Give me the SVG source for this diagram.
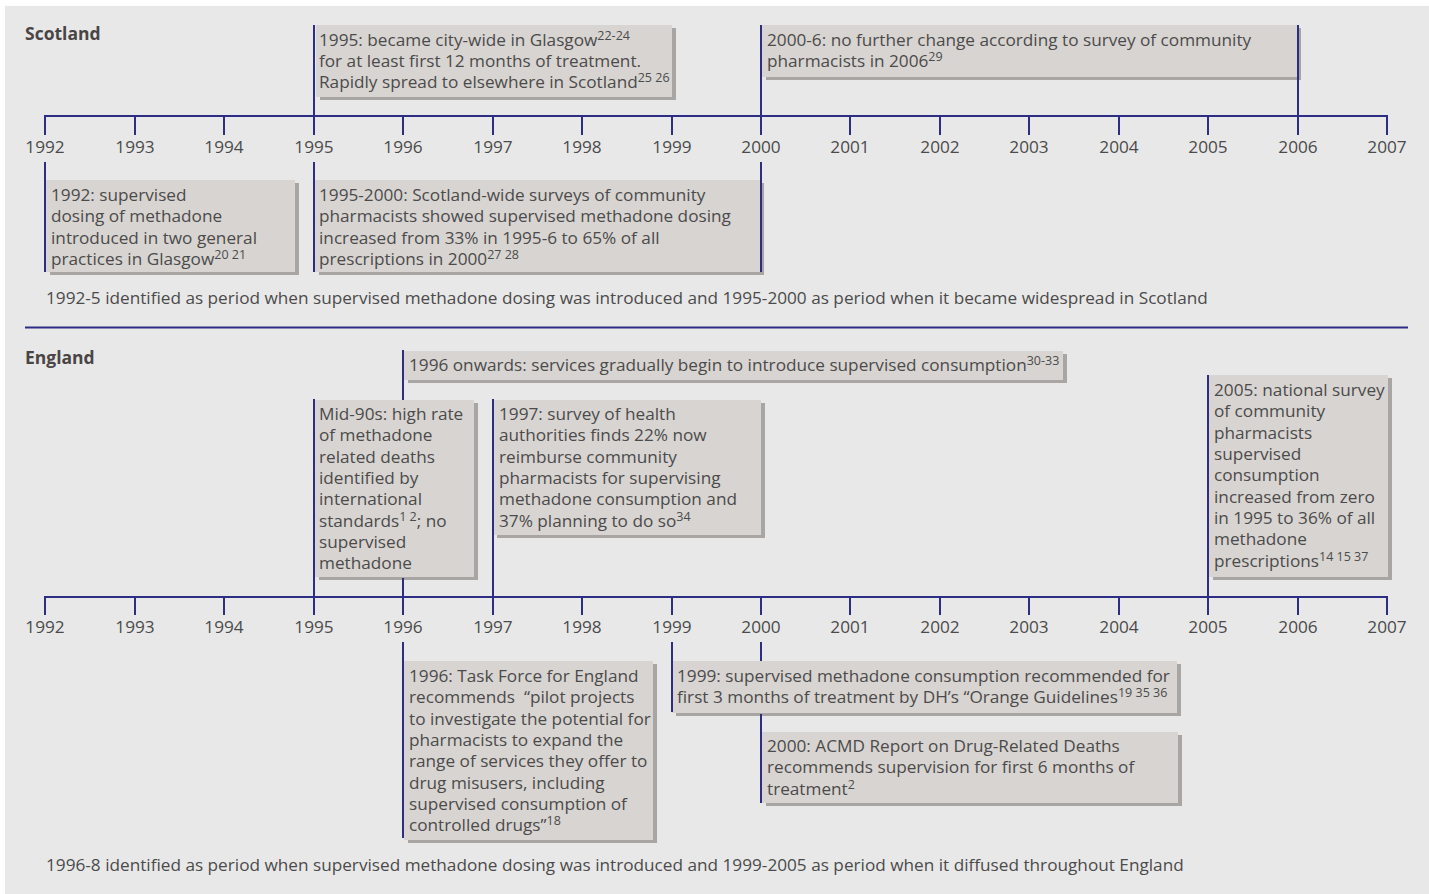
<svg xmlns="http://www.w3.org/2000/svg" width="1429" height="894" viewBox="0 0 1429 894">
<style>
text{font-family:"Open Sans","Noto Sans","Liberation Sans",sans-serif;font-size:17.2px;fill:#4b4b4b}
.h{font-weight:bold;font-size:17.5px;fill:#4a4545}
.yr{text-anchor:middle}
.sup{font-size:12.5px}
.box{fill:#d8d4d1}
.sh{fill:#a9a5a2}
.ln{stroke:#2e2d84;stroke-width:2;fill:none}
</style>
<rect x="0" y="0" width="1429" height="894" fill="#ffffff"/>
<rect x="5" y="6" width="1424" height="888" fill="#e8e8e8"/>

<text class="h" x="25" y="40">Scotland</text>
<text class="h" x="25" y="364">England</text>

<!-- Scotland nodes -->
<g id="s1995">
<rect class="sh" x="320" y="28" width="356" height="72"/>
<rect class="box" x="316" y="25" width="356" height="72"/>
<text><tspan x="319" y="46">1995: became city-wide in Glasgow<tspan class="sup" dy="-6">22-24</tspan></tspan><tspan x="319" y="67">for at least first 12 months of treatment.</tspan><tspan x="319" y="88">Rapidly spread to elsewhere in Scotland<tspan class="sup" dy="-6">25 26</tspan></tspan></text>
</g>
<g id="s2000-6">
<rect class="sh" x="766" y="28" width="535" height="52"/>
<rect class="box" x="762" y="25" width="535" height="52"/>
<text><tspan x="767" y="46">2000-6: no further change according to survey of community</tspan><tspan x="767" y="67">pharmacists in 2006<tspan class="sup" dy="-6">29</tspan></tspan></text>
</g>
<g id="s1992">
<rect class="sh" x="50" y="183" width="249" height="92"/>
<rect class="box" x="46" y="180" width="249" height="92"/>
<text><tspan x="51" y="201">1992: supervised</tspan><tspan x="51" y="222.3">dosing of methadone</tspan><tspan x="51" y="243.6">introduced in two general</tspan><tspan x="51" y="265">practices in Glasgow<tspan class="sup" dy="-6">20 21</tspan></tspan></text>
</g>
<g id="s1995-2000">
<rect class="sh" x="319" y="183" width="445" height="92"/>
<rect class="box" x="315" y="180" width="445" height="92"/>
<text><tspan x="319" y="201">1995-2000: Scotland-wide surveys of community</tspan><tspan x="319" y="222.3">pharmacists showed supervised methadone dosing</tspan><tspan x="319" y="243.6">increased from 33% in 1995-6 to 65% of all</tspan><tspan x="319" y="265">prescriptions in 2000<tspan class="sup" dy="-6">27 28</tspan></tspan></text>
</g>
<text id="s-note" x="46" y="304">1992-5 identified as period when supervised methadone dosing was introduced and 1995-2000 as period when it became widespread in Scotland</text>

<!-- England nodes -->
<g id="e1996on">
<rect class="sh" x="408" y="354" width="659" height="29"/>
<rect class="box" x="404" y="351" width="659" height="29"/>
<text x="409" y="371">1996 onwards: services gradually begin to introduce supervised consumption<tspan class="sup" dy="-6">30-33</tspan></text>
</g>
<g id="emid90s">
<rect class="sh" x="319" y="403" width="159" height="177"/>
<rect class="box" x="315" y="400" width="159" height="177"/>
<text><tspan x="319" y="420">Mid-90s: high rate</tspan><tspan x="319" y="441.3">of methadone</tspan><tspan x="319" y="462.6">related deaths</tspan><tspan x="319" y="484">identified by</tspan><tspan x="319" y="505.3">international</tspan><tspan x="319" y="526.6">standards<tspan class="sup" dy="-6">1 2</tspan><tspan dy="6">; no</tspan></tspan><tspan x="319" y="548">supervised</tspan><tspan x="319" y="569.3">methadone</tspan></text>
</g>
<g id="e1997">
<rect class="sh" x="497" y="403" width="268" height="135"/>
<rect class="box" x="494" y="400" width="267" height="135"/>
<text><tspan x="499" y="420">1997: survey of health</tspan><tspan x="499" y="441.3">authorities finds 22% now</tspan><tspan x="499" y="462.6">reimburse community</tspan><tspan x="499" y="484">pharmacists for supervising</tspan><tspan x="499" y="505.3">methadone consumption and</tspan><tspan x="499" y="526.6">37% planning to do so<tspan class="sup" dy="-6">34</tspan></tspan></text>
</g>
<g id="e2005">
<rect class="sh" x="1213" y="378" width="179" height="202"/>
<rect class="box" x="1209" y="375" width="179" height="202"/>
<text><tspan x="1214" y="396">2005: national survey</tspan><tspan x="1214" y="417.3">of community</tspan><tspan x="1214" y="438.6">pharmacists</tspan><tspan x="1214" y="460">supervised</tspan><tspan x="1214" y="481.3">consumption</tspan><tspan x="1214" y="502.6">increased from zero</tspan><tspan x="1214" y="524">in 1995 to 36% of all</tspan><tspan x="1214" y="545.3">methadone</tspan><tspan x="1214" y="566.6">prescriptions<tspan class="sup" dy="-6">14 15 37</tspan></tspan></text>
</g>
<g id="e1996">
<rect class="sh" x="408" y="664" width="249" height="179"/>
<rect class="box" x="404" y="661" width="249" height="179"/>
<text><tspan x="409" y="682">1996: Task Force for England</tspan><tspan x="409" y="703.3">recommends&#160; “pilot projects</tspan><tspan x="409" y="724.6">to investigate the potential for</tspan><tspan x="409" y="746">pharmacists to expand the</tspan><tspan x="409" y="767.3">range of services they offer to</tspan><tspan x="409" y="788.6">drug misusers, including</tspan><tspan x="409" y="810">supervised consumption of</tspan><tspan x="409" y="831.3">controlled drugs”<tspan class="sup" dy="-6">18</tspan></tspan></text>
</g>
<g id="e2000">
<rect class="sh" x="766" y="735" width="416" height="71"/>
<rect class="box" x="762" y="732" width="416" height="71"/>
<text><tspan x="767" y="752">2000: ACMD Report on Drug-Related Deaths</tspan><tspan x="767" y="773.3">recommends supervision for first 6 months of</tspan><tspan x="767" y="794.6">treatment<tspan class="sup" dy="-6">2</tspan></tspan></text>
</g>
<g id="e1999">
<rect class="sh" x="676" y="664" width="505" height="52"/>
<rect class="box" x="672" y="661" width="505" height="52"/>
<text><tspan x="677" y="682">1999: supervised methadone consumption recommended for</tspan><tspan x="677" y="703.3">first 3 months of treatment by DH’s “Orange Guidelines<tspan class="sup" dy="-6">19 35 36</tspan></tspan></text>
</g>
<text id="e-note" x="46" y="871">1996-8 identified as period when supervised methadone dosing was introduced and 1999-2005 as period when it diffused throughout England</text>

<!-- connectors: axes, ticks, event lines -->
<g id="connectors" class="ln">
<path class="ln" d="M45 135V116H1387V135M135 116V135M224 116V135M314 116V135M403 116V135M493 116V135M582 116V135M672 116V135M761 116V135M850 116V135M940 116V135M1029 116V135M1119 116V135M1208 116V135M1298 116V135"/>
<path class="ln" d="M314 25V116M761 25V116M1298 25V116M45 162V272M314 162V272M761 162V272"/>
<path class="ln" d="M25 327.5H1408"/>
<path class="ln" d="M45 615V597H1387V615M135 597V615M224 597V615M314 597V615M403 597V615M493 597V615M582 597V615M672 597V615M761 597V615M850 597V615M940 597V615M1029 597V615M1119 597V615M1208 597V615M1298 597V615"/>
<path class="ln" d="M403 350V400M403 578V597M314 399V597M493 399V597M1208 375V597M403 642V838M672 642V712M761 642V661M761 714V803"/>
</g>

<g id="years-scotland">
<text class="yr" x="45" y="153">1992</text><text class="yr" x="135" y="153">1993</text><text class="yr" x="224" y="153">1994</text><text class="yr" x="314" y="153">1995</text><text class="yr" x="403" y="153">1996</text><text class="yr" x="493" y="153">1997</text><text class="yr" x="582" y="153">1998</text><text class="yr" x="672" y="153">1999</text><text class="yr" x="761" y="153">2000</text><text class="yr" x="850" y="153">2001</text><text class="yr" x="940" y="153">2002</text><text class="yr" x="1029" y="153">2003</text><text class="yr" x="1119" y="153">2004</text><text class="yr" x="1208" y="153">2005</text><text class="yr" x="1298" y="153">2006</text><text class="yr" x="1387" y="153">2007</text>
</g>
<g id="years-england">
<text class="yr" x="45" y="633">1992</text><text class="yr" x="135" y="633">1993</text><text class="yr" x="224" y="633">1994</text><text class="yr" x="314" y="633">1995</text><text class="yr" x="403" y="633">1996</text><text class="yr" x="493" y="633">1997</text><text class="yr" x="582" y="633">1998</text><text class="yr" x="672" y="633">1999</text><text class="yr" x="761" y="633">2000</text><text class="yr" x="850" y="633">2001</text><text class="yr" x="940" y="633">2002</text><text class="yr" x="1029" y="633">2003</text><text class="yr" x="1119" y="633">2004</text><text class="yr" x="1208" y="633">2005</text><text class="yr" x="1298" y="633">2006</text><text class="yr" x="1387" y="633">2007</text>
</g>
</svg>
